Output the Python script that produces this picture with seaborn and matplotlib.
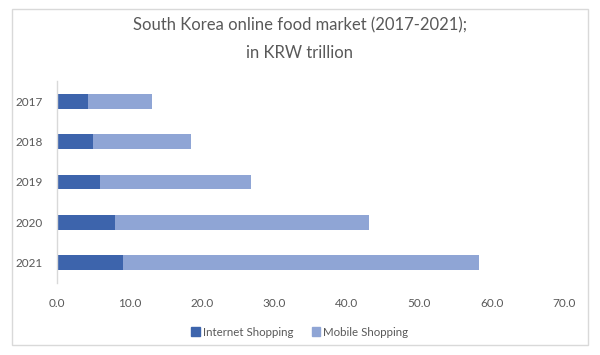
import matplotlib
matplotlib.use("Agg")
import matplotlib.pyplot as plt
from matplotlib.patches import Rectangle, Patch
import seaborn as sns
import pandas as pd

# data (KRW trillion)
years = ["2017", "2018", "2019", "2020", "2021"]
internet_shopping = [4.3, 5.0, 5.9, 8.0, 9.1]
mobile_shopping = [8.8, 13.5, 20.9, 35.1, 49.2]
x_ticks = [0, 10, 20, 30, 40, 50, 60, 70]

dark_blue = "#3d64ac"
light_blue = "#8fa5d5"
text_grey = "#595959"
line_grey = "#d9d9d9"

df = pd.DataFrame({
    "Year": years,
    "Internet Shopping": internet_shopping,
    "Mobile Shopping": mobile_shopping,
})
df["Total"] = df["Internet Shopping"] + df["Mobile Shopping"]

sns.set_theme(style="white")
plt.rcParams["font.family"] = ["Lato", "DejaVu Sans"]

fig = plt.figure(figsize=(6, 3.55), dpi=100)
ax = fig.add_axes([57 / 600, 1 - 283 / 355, (564 - 57) / 600, 202 / 355])

# stacked bars: total (mobile colour) underneath, internet on top
sns.barplot(data=df, x="Total", y="Year", order=years, color=light_blue,
            width=0.37, saturation=1, orient="h", linewidth=0, ax=ax)
sns.barplot(data=df, x="Internet Shopping", y="Year", order=years,
            color=dark_blue, width=0.37, saturation=1, orient="h",
            linewidth=0, ax=ax)

ax.set_xlim(0, 70)
ax.set_xticks(x_ticks)
ax.set_xticklabels([f"{t:.1f}" for t in x_ticks])
ax.set_xlabel("")
ax.set_ylabel("")
ax.tick_params(axis="both", length=0, colors=text_grey, labelsize=8.5)
ax.tick_params(axis="x", pad=11)
ax.tick_params(axis="y", pad=10)
for side in ["top", "right", "bottom"]:
    ax.spines[side].set_visible(False)
ax.spines["left"].set_color(line_grey)
ax.spines["left"].set_linewidth(1)
ax.grid(False)

fig.text(0.5, 1 - 25 / 355, "South Korea online food market (2017-2021);",
         ha="center", va="center", fontsize=12, color=text_grey)
fig.text(0.5, 1 - 53 / 355, "in KRW trillion",
         ha="center", va="center", fontsize=12, color=text_grey)

handles = [Patch(color=dark_blue, label="Internet Shopping"),
           Patch(color=light_blue, label="Mobile Shopping")]
leg = fig.legend(handles=handles, loc="center", bbox_to_anchor=(0.5, 1 - 332 / 355),
                 ncol=2, frameon=False, fontsize=8.3, handlelength=0.7,
                 handleheight=0.7, handletextpad=0.3, columnspacing=1.6)
for t in leg.get_texts():
    t.set_color(text_grey)

# chart border
fig.patches.append(Rectangle((12 / 600, 1 - 345 / 355), 576 / 600, 336 / 355,
                             transform=fig.transFigure, fill=False,
                             edgecolor=line_grey, linewidth=1))

fig.savefig("out.png", dpi=100, facecolor="white")
